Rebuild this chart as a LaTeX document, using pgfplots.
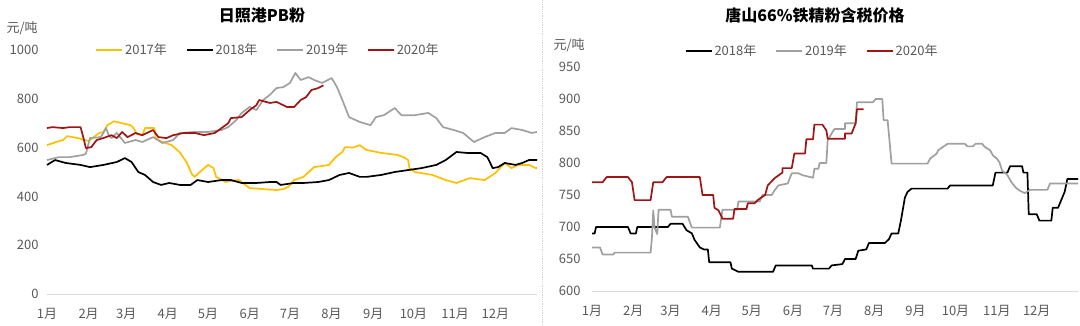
\documentclass[border=0pt]{standalone}
\usepackage{fontspec}
\setmainfont{Noto Sans CJK SC}
\usepackage{pgfplots}
\pgfplotsset{compat=1.18}
\definecolor{cy}{HTML}{FFC000}
\definecolor{cg}{HTML}{A0A0A0}
\definecolor{cr}{HTML}{A01414}
\definecolor{ct}{HTML}{595959}
\definecolor{cax}{HTML}{D9D9D9}
\pgfplotsset{
  base/.style={
    scale only axis,
    axis x line*=bottom, axis y line*=left,
    x axis line style={draw=cax, line width=1pt, -},
    y axis line style={draw=none},
    major tick length=0pt,
    xmin=0, xmax=365,
    xtick={0,31,59,90,120,151,181,212,243,273,304,334},
    xticklabels={1月,2月,3月,4月,5月,6月,7月,8月,9月,10月,11月,12月},
    tick label style={font=\fontsize{13}{15}\selectfont, text=ct},
    /pgf/number format/assume math mode=true,
    /pgf/number format/1000 sep={},
    xticklabel style={yshift=-11pt},
    clip=false,
    legend style={draw=none, fill=none, font=\fontsize{13}{15}\selectfont, text=ct,
      legend columns=-1, anchor=center,
      /tikz/every even column/.append style={column sep=17pt}},
    legend image code/.code={\draw[#1] (0pt,0pt) -- (26pt,0pt);},
    every axis plot/.append style={line width=1.7pt, line join=round},
  }
}
\begin{document}
\begin{tikzpicture}
\useasboundingbox (0pt,0pt) rectangle (1080pt,325pt);
\fill[white] (0pt,0pt) rectangle (1080pt,325pt);
\draw[densely dotted, line width=0.8pt, gray!35] (542pt,0pt) -- (542pt,325pt);
\node[font=\bfseries\fontsize{16}{18}\selectfont] at (262pt,310pt) {日照港PB粉};
\node[font=\bfseries\fontsize{16}{18}\selectfont] at (815pt,310pt) {唐山66\%铁精粉含税价格};
\node[anchor=west, font=\fontsize{13}{15}\selectfont, text=ct] at (3pt,297pt) {元/吨};
\node[anchor=west, font=\fontsize{13}{15}\selectfont, text=ct] at (550pt,280pt) {元/吨};

\begin{axis}[base, at={(47pt,31pt)}, anchor=south west, width=490pt, height=244pt,
  ymin=0, ymax=1000, ytick={0,200,400,600,800,1000},
  yticklabel style={xshift=-5pt},
  legend style={at={(0.451,1)}}]
\addplot[cy] coordinates {(0,610)(8,625)(12,631)(15,647)(23,639)(31,627)(39,660)(42,664)(45,692)(50,708)(56,700)(62,692)(64,684)(67,655)(71,650)(73,680)(80,680)(81,639)(85,625)(93,610)(96,595)(99,580)(104,540)(108,490)(110,480)(113,496)(120,529)(124,516)(126,480)(133,459)(139,465)(143,467)(151,434)(161,430)(171,426)(176,430)(180,440)(184,467)(191,480)(199,520)(210,529)(215,561)(220,582)(222,602)(228,600)(233,610)(238,590)(243,585)(249,578)(261,570)(266,560)(269,549)(270,516)(274,500)(287,488)(297,467)(305,455)(315,475)(326,467)(334,496)(341,537)(346,516)(351,529)(359,529)(364,516)(365,516)};
\addlegendentry{2017年}
\addplot[black] coordinates {(0,529)(6,549)(14,537)(25,529)(32,520)(42,529)(52,541)(58,557)(63,541)(68,500)(73,488)(79,459)(85,447)(91,455)(99,447)(107,447)(112,467)(120,459)(130,467)(137,467)(145,455)(156,455)(166,459)(171,459)(174,447)(184,455)(191,455)(202,459)(210,467)(218,488)(225,496)(233,480)(238,480)(249,488)(259,500)(269,508)(279,516)(290,529)(297,549)(305,582)(313,578)(323,578)(328,561)(332,516)(336,520)(341,537)(349,529)(354,537)(359,549)(365,549)};
\addlegendentry{2018年}
\addplot[cg] coordinates {(0,549)(9,561)(17,561)(27,570)(29,575)(32,639)(40,643)(42,660)(44,680)(46,650)(48,639)(52,660)(58,619)(66,631)(71,623)(79,643)(86,619)(94,631)(99,660)(110,664)(120,664)(130,672)(135,684)(141,713)(145,742)(151,767)(156,754)(161,795)(166,816)(171,844)(176,848)(181,865)(185,906)(189,877)(195,889)(199,877)(205,865)(212,885)(216,848)(220,795)(225,725)(233,705)(241,692)(245,725)(251,733)(259,762)(264,733)(274,733)(284,742)(290,721)(295,684)(303,672)(310,660)(318,623)(326,643)(334,660)(341,660)(346,680)(354,672)(361,660)(365,664)};
\addlegendentry{2019年}
\addplot[cr] coordinates {(0,680)(4,684)(12,680)(17,684)(25,684)(27,643)(29,598)(33,602)(37,631)(42,639)(48,651)(52,639)(56,664)(60,643)(66,660)(71,651)(79,672)(83,643)(89,639)(94,651)(102,660)(110,660)(117,651)(125,660)(130,680)(135,700)(137,721)(145,725)(151,754)(156,774)(158,795)(166,783)(171,787)(179,766)(184,766)(189,795)(193,807)(197,836)(202,844)(206,855)};
\addlegendentry{2020年}
\end{axis}

\begin{axis}[base, at={(592pt,34pt)}, anchor=south west, width=486pt, height=224pt,
  ymin=600, ymax=950, ytick={600,650,...,950},
  yticklabel style={xshift=-8pt},
  legend style={at={(0.453,1.071)}}]
\addplot[black] coordinates {(0,690)(2,690)(3,700)(27,700)(29,690)(33,690)(34,700)(57,700)(59,705)(68,705)(71,695)(75,690)(77,680)(81,668)(84,665)(87,665)(88,645)(104,645)(105,635)(110,630)(136,630)(138,640)(165,640)(166,635)(178,635)(180,640)(188,642)(190,650)(198,650)(200,663)(206,665)(208,675)(220,675)(223,681)(225,690)(230,690)(232,710)(235,746)(237,755)(240,760)(267,760)(269,765)(301,765)(303,785)(312,785)(314,795)(323,795)(324,785)(327,785)(328,720)(334,720)(336,710)(345,710)(346,730)(350,730)(353,745)(355,755)(357,775)(365,775)};
\addlegendentry{2018年}
\addplot[cg] coordinates {(0,668)(6,668)(8,657)(16,657)(17,660)(44,660)(45,683)(46,726)(47,699)(49,689)(50,727)(59,727)(60,716)(72,716)(75,699)(96,699)(98,727)(109,727)(110,740)(126,740)(128,750)(135,750)(137,757)(140,765)(147,768)(150,784)(155,784)(158,781)(166,777)(167,791)(170,791)(171,800)(176,800)(177,836)(182,853)(190,853)(190,862)(198,862)(199,895)(211,895)(213,900)(218,900)(219,867)(222,867)(225,799)(252,799)(254,807)(259,815)(260,820)(267,830)(280,830)(282,826)(286,826)(288,830)(293,830)(295,825)(299,820)(301,812)(304,807)(306,801)(308,788)(310,785)(312,781)(315,770)(318,762)(321,757)(325,753)(329,758)(342,758)(344,768)(365,768)};
\addlegendentry{2019年}
\addplot[cr] coordinates {(0,770)(8,770)(11,778)(27,778)(30,770)(32,742)(44,742)(46,770)(53,770)(56,778)(81,778)(83,750)(91,750)(92,730)(95,726)(98,713)(106,713)(107,728)(116,728)(117,737)(122,737)(125,743)(130,750)(132,765)(137,776)(143,785)(143,792)(150,792)(152,815)(160,815)(161,837)(166,837)(167,860)(173,860)(176,851)(177,838)(190,838)(190,846)(195,846)(198,862)(199,884)(204,884)};
\addlegendentry{2020年}
\end{axis}
\end{tikzpicture}
\end{document}
